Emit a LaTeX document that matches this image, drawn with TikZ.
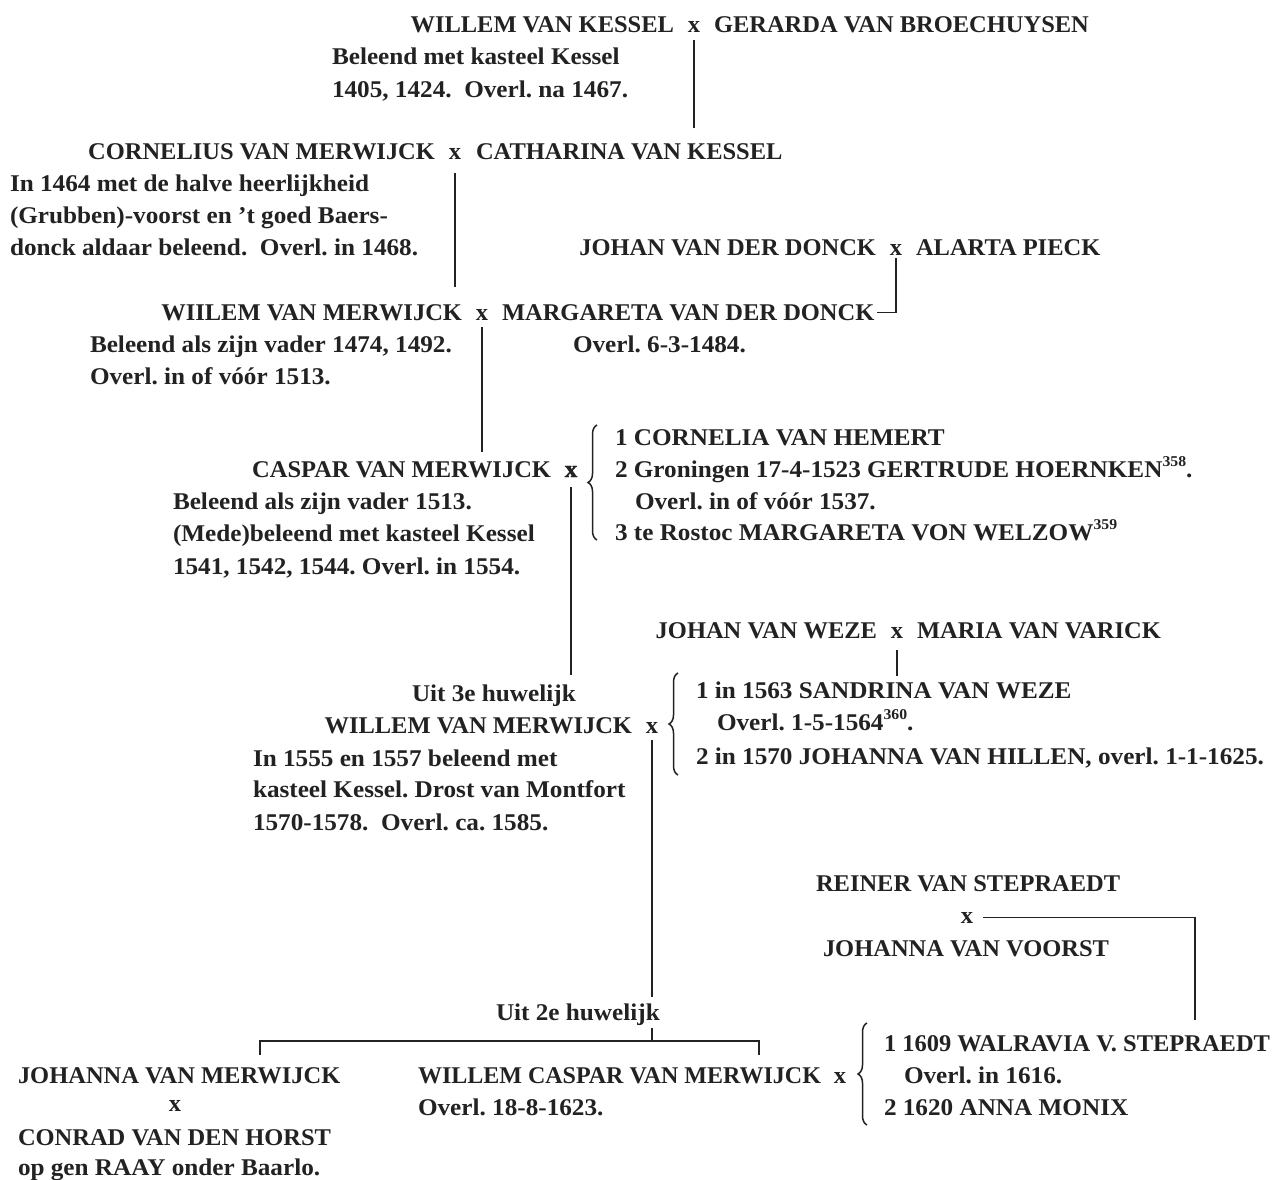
\documentclass[tikz,border=0pt]{standalone}
\usepackage{fontspec}
\setmainfont{Liberation Serif}[FakeStretch=1.02]
\newfontfamily\notefont{Liberation Serif}[FakeStretch=1.05]
\newfontfamily\heavyfont{Liberation Serif Bold}[FakeBold=1.6, FakeStretch=1.04]
\usetikzlibrary{decorations.pathreplacing}
\definecolor{ink}{HTML}{222222}
\newcommand\supr[1]{\raisebox{0.42em}{\fontsize{15}{15}\selectfont #1}}
\begin{document}
\frenchspacing
\begin{tikzpicture}[x=1pt,y=-1pt,
  every node/.style={inner sep=0pt, outer sep=0pt, text=ink, font=\fontsize{24}{30}\selectfont\bfseries},
  txt/.style={anchor=base west},
  note/.style={anchor=base west, font=\fontsize{24}{30}\selectfont\notefont\bfseries},
  txe/.style={anchor=base east},
  mx/.style={anchor=base},
  conn/.style={line width=1.3pt, draw=ink},
  brc/.style={decorate, decoration={brace, amplitude=9pt}, line width=1.5pt, draw=ink}]
\useasboundingbox (0,0) rectangle (1280,1180);
\fill[white] (0,0) rectangle (1280,1180);

% Row A
\node[txe] (wk) at (674,33) {WILLEM VAN KESSEL};
\node[mx] (kx) at (694,33) {x};
\node[txt] (gb) at (714,33) {GERARDA VAN BROECHUYSEN};
\node[note] (wk1) at (332,65) {Beleend met kasteel Kessel};
\node[note] (wk2) at (332,98) {1405, 1424.\ \ Overl. na 1467.};

% Row B
\node[txe] (cm) at (435,160) {CORNELIUS VAN MERWIJCK};
\node[mx] (cx) at (455,160) {x};
\node[txt] (ck) at (476,160) {CATHARINA VAN KESSEL};
\node[note] (cm1) at (10,192) {In 1464 met de halve heerlijkheid};
\node[note] (cm2) at (10,223) {(Grubben)-voorst en ’t goed Baers-};
\node[note] (cm3) at (10,255) {donck aldaar beleend.\ \ Overl. in 1468.};

% Van der Donck
\node[txe] (jd) at (876,255) {JOHAN VAN DER DONCK};
\node[mx] (jdx) at (896,255) {x};
\node[txt] (ap) at (916,255) {ALARTA PIECK};

% Row D
\node[txe] (wm) at (462,320) {WIILEM VAN MERWIJCK};
\node[mx] (wmx) at (482,320) {x};
\node[txt] (md) at (502,320) {MARGARETA VAN DER DONCK};
\node[note] (wm1) at (90,352) {Beleend als zijn vader 1474, 1492.};
\node[note] (wm2) at (90,384) {Overl. in of vóór 1513.};
\node[note] (md1) at (573,352) {Overl. 6-3-1484.};

% Row E
\node[txe] (cp) at (551,477) {CASPAR VAN MERWIJCK};
\node[mx, font=\fontsize{24}{30}\selectfont\heavyfont] (cpx) at (571,477) {x};
\node[note] (c1) at (615,445) {1 CORNELIA VAN HEMERT};
\node[note] (c2) at (615,477) {2 Groningen 17-4-1523 GERTRUDE HOERNKEN\supr{358}.};
\node[note] (c2b) at (635,509) {Overl. in of vóór 1537.};
\node[note] (c3) at (615,540) {3 te Rostoc MARGARETA VON WELZOW\supr{359}};
\node[note] (cp1) at (173,509) {Beleend als zijn vader 1513.};
\node[note] (cp2) at (173,541) {(Mede)beleend met kasteel Kessel};
\node[note] (cp3) at (173,574) {1541, 1542, 1544. Overl. in 1554.};

% Van Weze
\node[txe] (jw) at (877,638) {JOHAN VAN WEZE};
\node[mx] (jwx) at (897,638) {x};
\node[txt] (mv) at (917,638) {MARIA VAN VARICK};

% Row F
\node[note] (u3) at (412,701) {Uit 3e huwelijk};
\node[txe] (wv) at (632,733) {WILLEM VAN MERWIJCK};
\node[mx] (wvx) at (652,733) {x};
\node[note] (s1) at (696,698) {1 in 1563 SANDRINA VAN WEZE};
\node[note] (s2) at (717,730) {Overl. 1-5-1564\supr{360}.};
\node[note] (s3) at (696,764) {2 in 1570 JOHANNA VAN HILLEN, overl. 1-1-1625.};
\node[note] (wv1) at (253,766) {In 1555 en 1557 beleend met};
\node[note] (wv2) at (253,797) {kasteel Kessel. Drost van Montfort};
\node[note] (wv3) at (253,830) {1570-1578.\ \ Overl. ca. 1585.};

% Van Stepraedt
\node[txt] (rs) at (816,891) {REINER VAN STEPRAEDT};
\node[mx] (rsx) at (967,923) {x};
\node[txt] (jv) at (823,956) {JOHANNA VAN VOORST};

% Bottom row
\node[note] (u2) at (496,1020) {Uit 2e huwelijk};
\node[txt] (jm) at (18,1083) {JOHANNA VAN MERWIJCK};
\node[mx] (jmx) at (175,1111) {x};
\node[txt] (ch) at (18,1145) {CONRAD VAN DEN HORST};
\node[note] (ch1) at (18,1175) {op gen RAAY onder Baarlo.};
\node[txt, font=\fontsize{24}{30}\selectfont\bfseries\addfontfeature{FakeStretch=1.0}] (wc) at (418,1083) {WILLEM CASPAR VAN MERWIJCK};
\node[mx] (wcx) at (840,1083) {x};
\node[note] (wc1) at (418,1115) {Overl. 18-8-1623.};
\node[txt] (w1) at (884,1051) {1 1609 WALRAVIA V. STEPRAEDT};
\node[note] (w1b) at (904,1083) {Overl. in 1616.};
\node[note] (w2) at (884,1115) {2 1620 ANNA MONIX};

% Connectors
\draw[conn] ([yshift=-7pt]kx.south) -- ++(0,88);
\draw[conn] ([yshift=-13pt]cx.south) -- ++(0,114);
\draw[conn] ([yshift=-3pt]jdx.south) |- ([xshift=3pt]md.east);
\draw[conn] ([yshift=-7pt]wmx.south) -- ++(0,125);
\draw[conn] ([yshift=-10pt]cpx.south) -- ++(0,188);
\draw[conn] ([yshift=-12pt]jwx.south) -- ++(0,26);
\draw[conn] ([yshift=-7pt]wvx.south) -- ++(0,257);
\coordinate (hl) at (260,1041);
\coordinate (hr) at (759,1041);
\draw[conn] (wvx |- hl) ++(0,-13) -- (wvx |- hl);
\draw[conn] ([yshift=-14pt]hl) -- (hl) -- (hr) -- ([yshift=-14pt]hr);
\draw[conn] ([xshift=10pt]rsx.east) -- ++(212,0) -- ++(0,102);

% Braces
\coordinate (b1t) at (597,425); \coordinate (b1b) at (597,540);
\coordinate (b2t) at (678,673); \coordinate (b2b) at (678,775);
\coordinate (b3t) at (867,1023); \coordinate (b3b) at (867,1125);
\draw[brc] (b1b) -- (b1t);
\draw[brc] (b2b) -- (b2t);
\draw[brc] (b3b) -- (b3t);
\end{tikzpicture}
\end{document}
